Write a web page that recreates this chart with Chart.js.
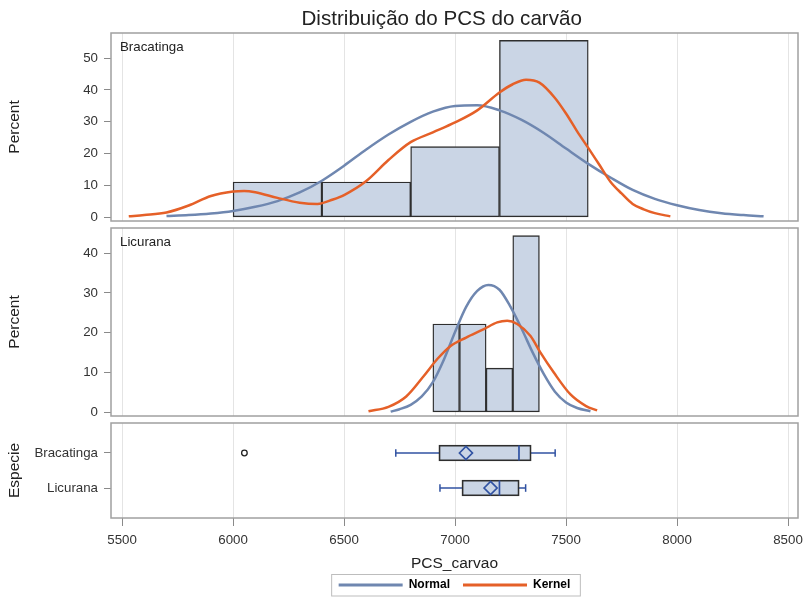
<!DOCTYPE html>
<html>
<head>
<meta charset="utf-8">
<title>Distribuição do PCS do carvão</title>
<script src="https://cdn.jsdelivr.net/npm/chart.js@4.4.1/dist/chart.umd.min.js"></script>
<style>
    html, body { margin: 0; padding: 0; background: #fff; overflow: hidden; }
    body { position: relative; width: 803px; height: 599px; }
    canvas { position: absolute; left: 0; }
</style>
</head>
<body>
<canvas id="bracChart" width="803" height="224" style="top:0"></canvas>
<canvas id="licuChart" width="803" height="196" style="top:224px"></canvas>
<canvas id="boxChart" width="803" height="182" style="top:420px"></canvas>
<script>
const xTicks = [5500, 6000, 6500, 7000, 7500, 8000, 8500];

const bracBinMid = [6200, 6600, 7000, 7400];
const bracPercent = [11.1, 11.1, 22.2, 55.6];
const bracTicks = [0, 10, 20, 30, 40, 50];

const bracNormalX = [5700, 5800, 5900, 6000, 6100, 6200, 6300, 6400, 6500, 6600, 6700, 6800, 6900, 7000,
    7100, 7200, 7300, 7400, 7500, 7600, 7700, 7800, 7900, 8000, 8100, 8200, 8300, 8390];
const bracNormalY = [0.4, 0.7, 1.2, 2.0, 3.3, 5.1, 7.8, 11.5, 16.2, 21.3, 26.0, 30.0, 33.2, 35.0,
    35.2, 33.6, 30.6, 26.5, 21.6, 16.8, 12.5, 8.6, 5.8, 3.8, 2.3, 1.3, 0.7, 0.3];

const bracKernelX = [5530, 5600, 5700, 5800, 5900, 6000, 6050, 6100, 6200, 6300, 6380, 6450, 6500, 6600,
    6700, 6800, 6900, 7000, 7100, 7200, 7260, 7320, 7380, 7450, 7500, 7550, 7600, 7650, 7700, 7750,
    7800, 7850, 7900, 7970];
const bracKernelY = [0.3, 0.7, 1.5, 3.7, 6.7, 8.1, 8.3, 7.9, 6.1, 4.6, 4.2, 5.6, 7.0, 11.4,
    18.0, 23.6, 26.7, 29.8, 33.6, 39.2, 41.8, 43.2, 42.3, 37.5, 32.6, 27.0, 21.8, 16.5, 11.2, 7.5,
    4.2, 2.5, 1.3, 0.3];

const licuBinMid = [6960, 7080, 7200, 7320];
const licuPercent = [22.2, 22.2, 11.1, 44.4];
const licuTicks = [0, 10, 20, 30, 40];

const licuNormalX = [6710, 6750, 6800, 6850, 6900, 6950, 7000, 7050, 7100, 7150, 7200, 7250, 7300,
    7350, 7400, 7450, 7500, 7550, 7610];
const licuNormalY = [0.2, 0.8, 1.9, 4.0, 7.6, 13.3, 20.2, 26.5, 30.5, 32.0, 30.8, 26.5, 21.0,
    15.0, 9.6, 5.2, 2.5, 1.1, 0.3];

const licuKernelX = [6610, 6700, 6780, 6860, 6920, 6980, 7050, 7130, 7190, 7235, 7280, 7340, 7385,
    7445, 7520, 7590, 7640];
const licuKernelY = [0.3, 1.4, 4.0, 9.2, 13.4, 16.7, 18.8, 20.9, 22.6, 23.0, 22.2, 19.2, 15.0,
    10.0, 4.5, 1.6, 0.5];

const especies = ['Bracatinga', 'Licurana'];
const whiskerLow = [6733, 6932];
const boxQ1 = [6927, 7031];
const boxMedian = [7288, 7200];
const boxQ3 = [7343, 7289];
const whiskerHigh = [7451, 7318];
const boxMean = [7049, 7160];
const outlierValue = [6051];
const outlierEspecie = ['Bracatinga'];

const legendNames = ['Normal', 'Kernel'];

const colors = {
    normal: 'rgb(111, 135, 176)',
    kernel: 'rgb(229, 96, 40)',
    histFill: '#CAD5E5',
    histLine: '#2E2E2E',
    whisker: 'rgb(48, 82, 162)',
    frame: '#A0A0A0',
    grid: '#E4E4E4',
    tick: '#8A8A8A',
    text: '#222'
};

const fontFamily = '"Liberation Sans", Arial, sans-serif';
Chart.defaults.font.family = fontFamily;
Chart.defaults.color = colors.text;

const xyPoints = (xs, ys) => xs.map((x, i) => ({ x, y: ys[i] }));

const panelFrame = {
    id: 'panelFrame',
    afterDraw(chart, args, opts) {
        const { ctx, chartArea: a } = chart;
        ctx.save();
        ctx.strokeStyle = colors.frame;
        ctx.lineWidth = 1.5;
        ctx.strokeRect(a.left, a.top, a.right - a.left, a.bottom - a.top);
        ctx.fillStyle = colors.text;
        if (opts.label) {
            ctx.font = '13.3px ' + fontFamily;
            ctx.textBaseline = 'middle';
            ctx.fillText(opts.label, a.left + 9, a.top + 14.5);
        }
        if (opts.title) {
            ctx.font = '20.6px ' + fontFamily;
            ctx.textAlign = 'center';
            ctx.textBaseline = 'alphabetic';
            ctx.fillText(opts.title, 441.7, 24.5);
        }
        ctx.restore();
    }
};

const legendFrame = {
    id: 'legendFrame',
    afterDraw(chart) {
        const boxes = chart.legend && chart.legend.legendHitBoxes;
        if (!boxes || !boxes.length) return;
        const left = Math.min(...boxes.map(b => b.left)) - 7;
        const right = Math.max(...boxes.map(b => b.left + b.width)) + 10;
        const top = boxes[0].top - 4.5;
        const bottom = boxes[0].top + boxes[0].height + 5;
        const ctx = chart.ctx;
        ctx.save();
        ctx.strokeStyle = '#BDBDBD';
        ctx.lineWidth = 1;
        ctx.strokeRect(left, top, right - left, bottom - top);
        ctx.restore();
    }
};

function xAxis(withLabels) {
    return {
        type: 'linear',
        min: 5450,
        max: 8545,
        offset: false,
        afterBuildTicks: s => { s.ticks = xTicks.map(v => ({ value: v })); },
        afterFit: s => {
            s.paddingLeft = 0;
            s.paddingRight = 0;
            s.height = withLabels ? 48 : 0;
        },
        grid: { color: colors.grid, offset: false, drawTicks: withLabels, tickLength: 8, tickColor: colors.tick },
        border: { display: false },
        ticks: {
            display: withLabels, padding: 6.7, color: '#333', font: { size: 13.3 },
            maxRotation: 0, autoSkip: false, callback: v => String(v)
        },
        title: {
            display: withLabels, text: 'PCS_carvao', color: colors.text,
            font: { size: 15.5 }, padding: { top: 0, bottom: -6.6 }
        }
    };
}

function yAxis(title, min, max, tickValues, labelFn) {
    return {
        type: 'linear',
        min,
        max,
        offset: false,
        afterBuildTicks: s => { s.ticks = tickValues.map(v => ({ value: v })); },
        afterFit: s => {
            s.width = 111;
            s.paddingTop = 0;
            s.paddingBottom = 0;
        },
        grid: { drawOnChartArea: false, offset: false, drawTicks: true, tickLength: 7, tickColor: colors.tick },
        border: { display: false },
        ticks: { padding: 6, color: '#333', font: { size: 13.3 }, autoSkip: false, callback: labelFn || (v => String(v)) },
        title: { display: true, text: title, color: colors.text, font: { size: 15.5 }, padding: { top: 5.2, bottom: 0 } }
    };
}

function histogramChart(canvasId, label, mids, pcts, normX, normY, kernX, kernY, yMin, yMax, ticks, padding, title) {
    return new Chart(document.getElementById(canvasId), {
        type: 'bar',
        data: {
            datasets: [
                {
                    type: 'line',
                    label: 'Kernel',
                    data: xyPoints(kernX, kernY),
                    borderColor: colors.kernel,
                    borderWidth: 2.5,
                    pointRadius: 0,
                    cubicInterpolationMode: 'monotone',
                    order: 0
                },
                {
                    type: 'line',
                    label: 'Normal',
                    data: xyPoints(normX, normY),
                    borderColor: colors.normal,
                    borderWidth: 2.5,
                    pointRadius: 0,
                    cubicInterpolationMode: 'monotone',
                    order: 1
                },
                {
                    type: 'bar',
                    label: label,
                    data: xyPoints(mids, pcts),
                    backgroundColor: colors.histFill,
                    borderColor: colors.histLine,
                    borderWidth: 1.4,
                    borderSkipped: false,
                    barPercentage: 1,
                    categoryPercentage: 1,
                    grouped: false,
                    order: 2
                }
            ]
        },
        options: {
            responsive: false,
            animation: false,
            events: [],
            layout: { autoPadding: false, padding: padding },
            plugins: {
                legend: { display: false },
                tooltip: { enabled: false },
                panelFrame: { label: label, title: title }
            },
            scales: {
                x: xAxis(false),
                y: yAxis('Percent', yMin, yMax, ticks)
            }
        },
        plugins: [panelFrame]
    });
}

histogramChart('bracChart', 'Bracatinga', bracBinMid, bracPercent, bracNormalX, bracNormalY,
    bracKernelX, bracKernelY, -1.16, 57.9, bracTicks, { top: 33, bottom: 3, left: 0, right: 5 },
    'Distribuição do PCS do carvão');

histogramChart('licuChart', 'Licurana', licuBinMid, licuPercent, licuNormalX, licuNormalY,
    licuKernelX, licuKernelY, -0.9, 46.3, licuTicks, { top: 4, bottom: 4, left: 0, right: 5 }, '');

const especieIndex = name => especies.indexOf(name) + 1;

new Chart(document.getElementById('boxChart'), {
    type: 'bar',
    data: {
        datasets: [
            {
                type: 'line',
                label: 'Mean',
                data: especies.map((n, i) => ({ x: boxMean[i], y: i + 1 })),
                showLine: false,
                pointStyle: 'rectRot',
                pointRadius: 6.5,
                pointBackgroundColor: 'rgba(0,0,0,0)',
                pointBorderColor: colors.whisker,
                pointBorderWidth: 1.7,
                order: 0
            },
            {
                type: 'line',
                label: 'Median',
                data: especies.map((n, i) => ({ x: boxMedian[i], y: i + 1 })),
                showLine: false,
                pointStyle: 'line',
                pointRotation: 90,
                pointRadius: 7.5,
                pointBorderColor: colors.whisker,
                pointBorderWidth: 1.7,
                order: 0
            },
            {
                type: 'line',
                label: 'Outlier',
                data: outlierValue.map((v, i) => ({ x: v, y: especieIndex(outlierEspecie[i]) })),
                showLine: false,
                pointStyle: 'circle',
                pointRadius: 2.8,
                pointBackgroundColor: 'rgba(0,0,0,0)',
                pointBorderColor: '#222',
                pointBorderWidth: 1.3,
                order: 0
            },
            {
                type: 'bar',
                label: 'Box',
                indexAxis: 'y',
                data: especies.map((n, i) => ({ y: i + 1, x: [boxQ1[i], boxQ3[i]] })),
                backgroundColor: colors.histFill,
                borderColor: colors.histLine,
                borderWidth: 1.8,
                borderSkipped: false,
                barThickness: 16,
                order: 1
            },
            ...especies.map((n, i) => ({
                type: 'line',
                label: n + ' whisker',
                data: [{ x: whiskerLow[i], y: i + 1 }, { x: whiskerHigh[i], y: i + 1 }],
                borderColor: colors.whisker,
                borderWidth: 1.4,
                pointStyle: 'line',
                pointRotation: 90,
                pointRadius: 3.8,
                pointBorderColor: colors.whisker,
                pointBorderWidth: 1.5,
                order: 3
            }))
        ]
    },
    options: {
        responsive: false,
        animation: false,
        events: [],
        layout: { autoPadding: false, padding: { top: 3, bottom: 1, left: 0, right: 5 } },
        plugins: {
            legend: {
                display: true,
                position: 'bottom',
                fullSize: false,
                labels: {
                    boxWidth: 64,
                    boxHeight: 3,
                    padding: 13,
                    color: colors.text,
                    font: { size: 12, weight: 'bold' },
                    generateLabels: () => legendNames.map((name, i) => ({
                        text: name,
                        fillStyle: i === 0 ? colors.normal : colors.kernel,
                        strokeStyle: i === 0 ? colors.normal : colors.kernel,
                        lineWidth: 0,
                        hidden: false,
                        datasetIndex: i
                    }))
                }
            },
            tooltip: { enabled: false },
            panelFrame: {}
        },
        scales: {
            x: xAxis(true),
            y: Object.assign(yAxis('Especie', 0.143, 2.857, especies.map((n, i) => i + 1), v => especies[v - 1]),
                { reverse: true })
        }
    },
    plugins: [panelFrame, legendFrame]
});
</script>
</body>
</html>
